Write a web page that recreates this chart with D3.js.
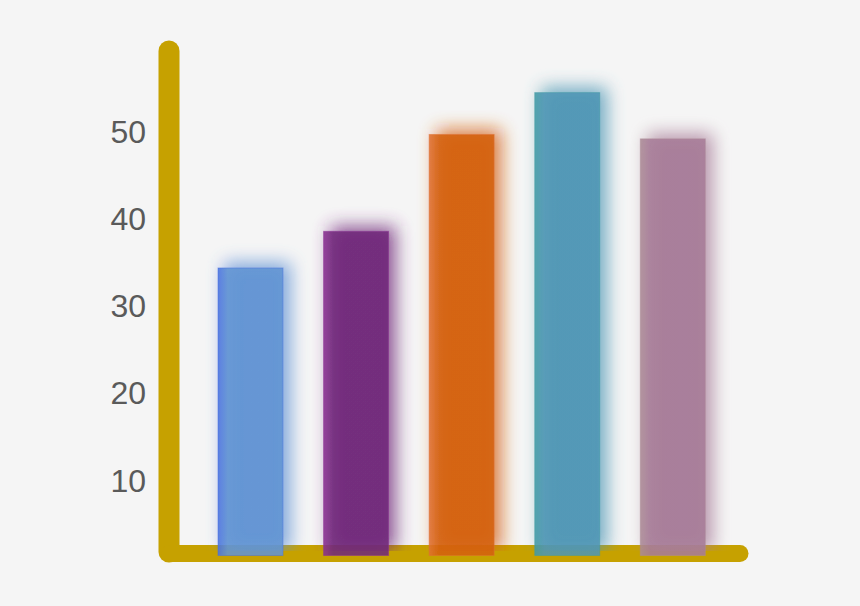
<!DOCTYPE html>
<html>
<head>
<meta charset="utf-8">
<script src="https://cdn.jsdelivr.net/npm/d3@7"></script>
<style>
  html, body { margin: 0; padding: 0; background: #f5f5f5; }
  svg { display: block; }
</style>
</head>
<body>
<div id="chart"></div>
<script>
// bars, left to right
var categories = ['A', 'B', 'C', 'D', 'E'];
var values = [34.3, 38.5, 49.6, 54.4, 49.1];
var barColors = ['#6194d3', '#70287a', '#d4600f', '#4f96b5', '#a77c98'];
var edgeColors = ['#4a72e0', '#8a2f92', '#e07030', '#3f9aa4', '#ab8a95'];
var yTicks = [10, 20, 30, 40, 50];

var width = 860, height = 606;
var gold = '#c6a100';

var svg = d3.select('#chart').append('svg')
    .attr('width', width)
    .attr('height', height);

svg.append('rect')
    .attr('width', width)
    .attr('height', height)
    .attr('fill', '#f5f5f5');

var x = d3.scaleBand()
    .domain(categories)
    .range([218, 705.3])
    .paddingInner(0.3845)
    .paddingOuter(0);

var y = d3.scaleLinear()
    .domain([10, 50])
    .range([480, 131]);

var baseY = 555.5; // where the bars stop, just under the axis line

var defs = svg.append('defs');

// soft glow round each bar, pushed a little up and right
// (filter region stops at the bar bottom so nothing leaks under the axis)
var glow = defs.append('filter')
    .attr('id', 'glow')
    .attr('x', '-50%').attr('y', '-20%')
    .attr('width', '200%').attr('height', '120%');
glow.append('feGaussianBlur')
    .attr('in', 'SourceGraphic')
    .attr('stdDeviation', 9)
    .attr('result', 'blur');
glow.append('feOffset')
    .attr('in', 'blur')
    .attr('dx', 7).attr('dy', -5)
    .attr('result', 'off');
glow.append('feComponentTransfer')
    .attr('in', 'off')
    .attr('result', 'soft')
    .append('feFuncA').attr('type', 'linear').attr('slope', 0.9);
var merge = glow.append('feMerge');
merge.append('feMergeNode').attr('in', 'soft');
merge.append('feMergeNode').attr('in', 'SourceGraphic');

// small gradient on the left edge of each bar
barColors.forEach(function (c, i) {
    var g = defs.append('linearGradient')
        .attr('id', 'grad' + i)
        .attr('x1', '0%').attr('x2', '100%')
        .attr('y1', '0%').attr('y2', '0%');
    g.append('stop').attr('offset', '0%').attr('stop-color', edgeColors[i]);
    g.append('stop').attr('offset', '15%').attr('stop-color', c);
    g.append('stop').attr('offset', '100%').attr('stop-color', c);
});

// axis lines
var axis = svg.append('g').attr('class', 'axis');
axis.append('line')
    .attr('x1', 169).attr('x2', 169)
    .attr('y1', 51).attr('y2', 552)
    .attr('stroke', gold)
    .attr('stroke-width', 21)
    .attr('stroke-linecap', 'round');
axis.append('line')
    .attr('x1', 170).attr('x2', 740)
    .attr('y1', 553.5).attr('y2', 553.5)
    .attr('stroke', gold)
    .attr('stroke-width', 17)
    .attr('stroke-linecap', 'round');

// tick labels
svg.append('g')
    .selectAll('text')
    .data(yTicks)
    .join('text')
    .attr('x', 146)
    .attr('y', function (d) { return y(d); })
    .attr('dy', '0.36em')
    .attr('text-anchor', 'end')
    .attr('font-family', 'Liberation Sans, Arial, sans-serif')
    .attr('font-size', 32)
    .attr('fill', '#5a5a5a')
    .text(function (d) { return d; });

// bars
svg.append('g')
    .selectAll('rect')
    .data(values)
    .join('rect')
    .attr('x', function (d, i) { return x(categories[i]); })
    .attr('y', function (d) { return y(d); })
    .attr('width', x.bandwidth())
    .attr('height', function (d) { return baseY - y(d); })
    .attr('fill', function (d, i) { return 'url(#grad' + i + ')'; })
    .attr('fill-opacity', 0.88)
    .attr('stroke', function (d, i) { return edgeColors[i]; })
    .attr('stroke-opacity', 0.5)
    .attr('stroke-width', 1)
    .attr('filter', 'url(#glow)');
</script>
</body>
</html>
